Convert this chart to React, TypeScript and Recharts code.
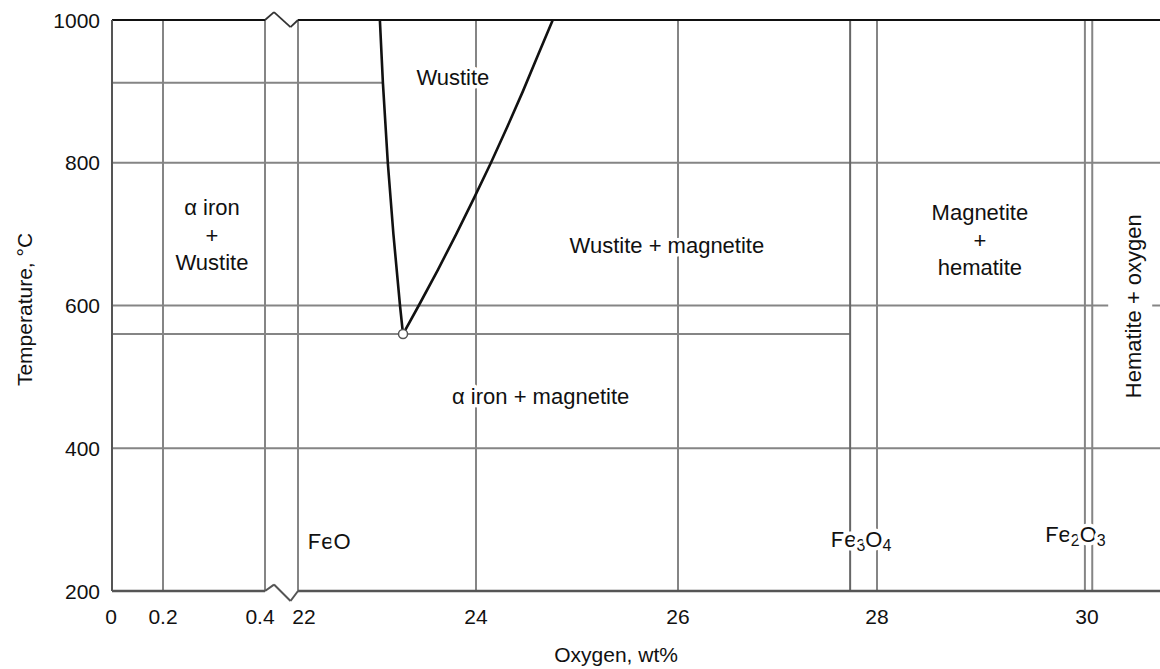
import React from 'react';
import { ComposedChart, Line, Scatter, XAxis, YAxis, ReferenceLine, ReferenceDot } from 'recharts';

// temperature ticks (°C) and oxygen ticks (wt%)
const tempTicks = [200, 400, 600, 800, 1000];
const oxygenTicks = [0, 0.2, 0.4, 22, 24, 26, 28, 30];

// wustite field boundaries
const wustiteLeftO = [23.18, 23.146, 23.072, 23.009, 22.954, 22.92];
const wustiteLeftT = [560, 600, 700, 800, 912, 1000];
const wustiteRightO = [23.18, 23.357, 23.572, 23.778, 23.976, 24.148, 24.309, 24.464, 24.611, 24.76];
const wustiteRightT = [560, 600, 650, 700, 750, 800, 850, 900, 950, 1000];

const alphaGammaT = 912;
const eutectoidO = 23.18;
const eutectoidT = 560;
const magnetiteO = 27.73;
const hematiteO = [29.98, 30.05];

const gridO = [0.2, 0.4, 22, 24, 26, 28];
const gridT = [400, 600, 800];

const labelText = [
  'Wustite',
  'α iron\n+\nWustite',
  'Wustite + magnetite',
  'α iron + magnetite',
  'Magnetite\n+\nhematite',
  'FeO',
  'Fe3O4',
  'Fe2O3',
  'Hematite + oxygen',
];
const labelO = [23.74, 0.296, 25.89, 24.64, 28.98, 22.11, 27.84, 29.89, 30.44];
const labelT = [920, 699, 685, 473, 692, 270, 273, 280, 599];

// broken oxygen axis: 0-0.4 and 22-31 wt% share one axis
const breakWt = [0, 0.2, 0.4, 22, 24, 26, 28, 30, 31];
const breakU = [0, 0.51, 1.53, 1.86, 3.64, 5.66, 7.65, 9.75, 10.8];
const X_MAX = 10.48;

const toU = (wt: number) => {
  for (let i = 1; i < breakWt.length; i++) {
    if (wt <= breakWt[i] || i === breakWt.length - 1) {
      const f = (wt - breakWt[i - 1]) / (breakWt[i] - breakWt[i - 1]);
      return breakU[i - 1] + f * (breakU[i] - breakU[i - 1]);
    }
  }
  return 0;
};

const toRows = (o: number[], t: number[]) => o.map((v, i) => ({ x: toU(v), y: t[i] }));

const leftCurve = toRows(wustiteLeftO, wustiteLeftT);
const rightCurve = toRows(wustiteRightO, wustiteRightT);
const labels = labelText.map((text, i) => ({ x: toU(labelO[i]), y: labelT[i], text }));

const FONT = '"Liberation Sans", Arial, Helvetica, sans-serif';
const GRID = '#858585';
const TEXT = '#111';

const Formula = ({ text }: { text: string }) => {
  const parts: React.ReactNode[] = [];
  let sub = false;
  text.split('').forEach((ch, i) => {
    const isDigit = /\d/.test(ch);
    if (isDigit && !sub) {
      parts.push(<tspan key={i} dy={6} fontSize={16}>{ch}</tspan>);
      sub = true;
    } else if (!isDigit && sub) {
      parts.push(<tspan key={i} dy={-6}>{ch}</tspan>);
      sub = false;
    } else {
      parts.push(<tspan key={i}>{ch}</tspan>);
    }
  });
  return <>{parts}</>;
};

const RegionLabel = (props: any) => {
  const { cx, cy, payload } = props;
  const text: string = payload.text;
  const common = {
    fontFamily: FONT,
    fontSize: 22,
    fill: TEXT,
    stroke: '#fff',
    strokeWidth: 7,
    paintOrder: 'stroke',
    strokeLinejoin: 'round',
  } as any;
  if (text.startsWith('Hematite')) {
    return (
      <g transform={`rotate(-90 ${cx} ${cy})`}>
        <rect x={cx - 100} y={cy - 25} width={200} height={44} fill="#fff" />
        <text x={cx} y={cy} textAnchor="middle" dominantBaseline="central" {...common}>
          {text}
        </text>
      </g>
    );
  }
  if (/^Fe\d/.test(text) || text === 'FeO') {
    return (
      <text x={cx} y={cy} textAnchor={text === 'FeO' ? 'start' : 'middle'} dominantBaseline="central" {...common}>
        <Formula text={text} />
      </text>
    );
  }
  const lines = text.split('\n');
  const lh = 27.5;
  const y0 = cy - ((lines.length - 1) * lh) / 2;
  return (
    <text textAnchor="middle" dominantBaseline="central" {...common}>
      {lines.map((l, i) => (
        <tspan key={i} x={cx} y={y0 + i * lh}>{l}</tspan>
      ))}
    </text>
  );
};

const XTick = (props: any) => {
  const { x, y, payload } = props;
  let idx = 0;
  oxygenTicks.forEach((t, i) => {
    if (Math.abs(toU(t) - payload.value) < Math.abs(toU(oxygenTicks[idx]) - payload.value)) idx = i;
  });
  const label = String(oxygenTicks[idx]);
  const nudge = label === '0.4' ? -5 : label === '22' ? 6 : label === '0' ? -1 : 0;
  return (
    <text x={x + nudge} y={y + 31} textAnchor="middle" fontFamily={FONT} fontSize={21} fill={TEXT}>
      {label}
    </text>
  );
};

const YTick = (props: any) => {
  const { x, y, payload } = props;
  return (
    <text x={x} y={y} dy={7.5} textAnchor="end" fontFamily={FONT} fontSize={21} fill={TEXT}>
      {payload.value}
    </text>
  );
};

const gapA = toU(0.4);
const gapB = toU(22);
const gapStep = (gapB - gapA) / 3.3;

const App: React.FC = () => {
  return (
    <div style={{ position: 'absolute', left: 0, top: 0, width: 1160, height: 669, background: '#fff' }}>
      <ComposedChart width={1160} height={669} margin={{ top: 20, right: 0, bottom: 0, left: 0 }}>
        <XAxis
          type="number"
          dataKey="x"
          domain={[0, X_MAX]}
          allowDataOverflow
          ticks={oxygenTicks.map(toU)}
          interval={0}
          axisLine={false}
          tickLine={false}
          tickSize={0}
          height={78}
          tick={<XTick />}
          label={(p: any) => {
            const vb = p.viewBox || { x: 112, y: 591, width: 1048 };
            return (
              <text x={vb.x + vb.width * 0.481} y={vb.y + 71} textAnchor="middle" fontFamily={FONT} fontSize={21} fill={TEXT}>
                Oxygen, wt%
              </text>
            );
          }}
        />
        <YAxis
          type="number"
          dataKey="y"
          domain={[200, 1000]}
          ticks={tempTicks}
          interval={0}
          width={112}
          axisLine={{ stroke: '#555', strokeWidth: 2 }}
          tickLine={false}
          tickSize={0}
          tickMargin={12}
          tick={<YTick />}
          label={(p: any) => {
            const vb = p.viewBox || { x: 0, y: 20, height: 571 };
            const cx = vb.x + 24;
            const cy = vb.y + vb.height / 2 + 4;
            return (
              <text x={cx} y={cy} transform={`rotate(-90 ${cx} ${cy})`} textAnchor="middle" dominantBaseline="central" fontFamily={FONT} fontSize={21} fill={TEXT}>
                Temperature, °C
              </text>
            );
          }}
        />

        {gridT.map((t) => (
          <ReferenceLine key={`h${t}`} y={t} stroke={GRID} strokeWidth={2} />
        ))}
        <ReferenceLine segment={[{ x: 0, y: alphaGammaT }, { x: toU(wustiteLeftO[4]), y: alphaGammaT }]} stroke={GRID} strokeWidth={2} />
        <ReferenceLine segment={[{ x: 0, y: eutectoidT }, { x: toU(magnetiteO), y: eutectoidT }]} stroke={GRID} strokeWidth={2} />

        {gridO.map((o) => (
          <ReferenceLine key={`v${o}`} x={toU(o)} stroke={GRID} strokeWidth={2} />
        ))}
        <ReferenceLine x={toU(magnetiteO)} stroke="#666" strokeWidth={2} />
        {hematiteO.map((o) => (
          <ReferenceLine key={`fe2o3${o}`} x={toU(o)} stroke={GRID} strokeWidth={2} />
        ))}

        {/* frame: top and bottom, broken between 0.4 and 22 wt% */}
        <ReferenceLine segment={[{ x: 0, y: 1000 }, { x: gapA, y: 1000 }]} stroke="#111" strokeWidth={2} />
        <ReferenceLine segment={[{ x: gapB, y: 1000 }, { x: X_MAX, y: 1000 }]} stroke="#111" strokeWidth={2} />
        <ReferenceLine segment={[{ x: 0, y: 200 }, { x: gapA, y: 200 }]} stroke="#555" strokeWidth={2.5} />
        <ReferenceLine segment={[{ x: gapB, y: 200 }, { x: X_MAX, y: 200 }]} stroke="#555" strokeWidth={2.5} />
        <ReferenceLine ifOverflow="visible" segment={[{ x: gapA, y: 1000 }, { x: gapA + gapStep * 0.9, y: 1011 }]} stroke="#333" strokeWidth={1.8} />
        <ReferenceLine ifOverflow="visible" segment={[{ x: gapA + gapStep * 0.9, y: 1011 }, { x: gapA + gapStep * 2.55, y: 990 }]} stroke="#333" strokeWidth={1.8} />
        <ReferenceLine ifOverflow="visible" segment={[{ x: gapA + gapStep * 2.55, y: 990 }, { x: gapB, y: 1000 }]} stroke="#333" strokeWidth={1.8} />
        <ReferenceLine ifOverflow="visible" segment={[{ x: gapA, y: 200 }, { x: gapA + gapStep * 0.9, y: 209 }]} stroke="#555" strokeWidth={2} />
        <ReferenceLine ifOverflow="visible" segment={[{ x: gapA + gapStep * 0.9, y: 209 }, { x: gapA + gapStep * 2.55, y: 186 }]} stroke="#555" strokeWidth={2} />
        <ReferenceLine ifOverflow="visible" segment={[{ x: gapA + gapStep * 2.55, y: 186 }, { x: gapB, y: 200 }]} stroke="#555" strokeWidth={2} />

        <Line data={leftCurve} dataKey="y" type="linear" stroke="#111" strokeWidth={2.6} dot={false} isAnimationActive={false} />
        <Line data={rightCurve} dataKey="y" type="linear" stroke="#111" strokeWidth={2.6} dot={false} isAnimationActive={false} />
        <ReferenceDot x={toU(eutectoidO)} y={eutectoidT} r={4.5} fill="#fff" stroke="#555" strokeWidth={1.5} />

        <Scatter data={labels} dataKey="y" shape={<RegionLabel />} isAnimationActive={false} />
      </ComposedChart>
    </div>
  );
};

export default App;
